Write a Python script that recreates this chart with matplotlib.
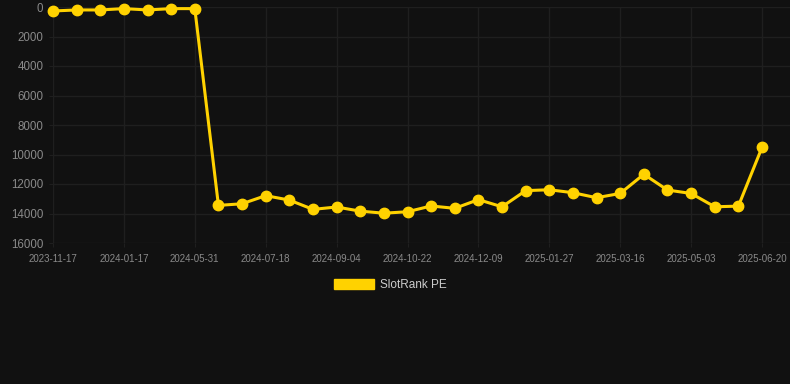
import matplotlib.pyplot as plt
from matplotlib.patches import Patch

plt.rcParams['font.family'] = ['Liberation Sans', 'DejaVu Sans']

# rank values, one point per snapshot (inverted axis)
rank_values = [270, 200, 200, 110, 200, 110, 110,
               13450, 13340, 12790, 13090, 13720, 13560, 13840,
               13980, 13880, 13490, 13650, 13060, 13545, 12450,
               12390, 12590, 12930, 12640, 11340, 12410, 12640,
               13545, 13500, 9520]
tick_labels = ['2023-11-17', '2024-01-17', '2024-05-31', '2024-07-18',
               '2024-09-04', '2024-10-22', '2024-12-09', '2025-01-27',
               '2025-03-16', '2025-05-03', '2025-06-20']
y_ticks = [0, 2000, 4000, 6000, 8000, 10000, 12000, 14000, 16000]

bg = '#111111'
grid_col = '#1f1f1f'
gold = '#FFD200'

fig = plt.figure(figsize=(7.9, 3.84), dpi=100, facecolor=bg)
ax = fig.add_axes([53 / 790, 1 - 243 / 384, 737 / 790, 236 / 384])
ax.set_facecolor(bg)

xs = list(range(len(rank_values)))
ax.plot(xs, rank_values, color=gold, linewidth=2.2, marker='o',
        markersize=7.5, markerfacecolor=gold, markeredgecolor=gold,
        zorder=3, clip_on=False)

ax.set_ylim(16000, 0)
ax.set_xlim(0, 30 * 737 / 709)
ax.set_yticks(y_ticks)
ax.set_yticklabels([str(v) for v in y_ticks])
ax.set_xticks(xs[::3])
ax.set_xticklabels(tick_labels)

ax.grid(True, color=grid_col, linewidth=1)
ax.tick_params(axis='y', colors=grid_col, labelcolor='#8a8a8a',
               labelsize=8.3, length=3, pad=4)
ax.tick_params(axis='x', colors=grid_col, labelcolor='#8a8a8a',
               labelsize=7, length=3, pad=5)
for s in ax.spines.values():
    s.set_visible(False)

handle = Patch(facecolor=gold, edgecolor=gold, label='SlotRank PE')
leg = fig.legend(handles=[handle], loc='center',
                 bbox_to_anchor=(390 / 790, 1 - 285 / 384),
                 frameon=False, fontsize=8.5, handlelength=3.4,
                 handleheight=0.9, handletextpad=0.5)
for t in leg.get_texts():
    t.set_color('#cccccc')

fig.savefig('out.png', dpi=100, facecolor=bg)
